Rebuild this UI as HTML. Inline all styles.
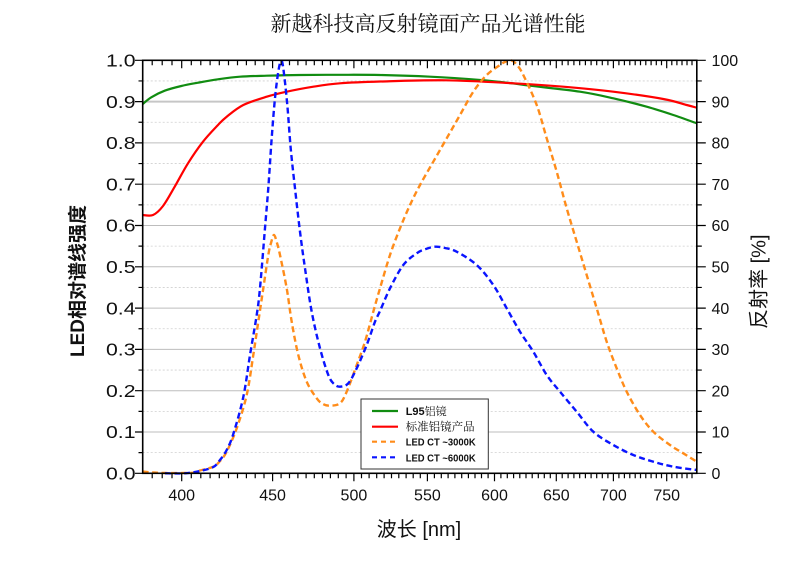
<!DOCTYPE html>
<html>
<head>
<meta charset="utf-8">
<style>
  html, body { margin:0; padding:0; background:#ffffff; }
  body { width:805px; height:565px; overflow:hidden; }
  svg { display:block; }
  .tk { font-family:"Liberation Sans", Arial, sans-serif; font-size:16px; fill:#111; }
  .tl { font-family:"Liberation Sans", Arial, sans-serif; font-size:17.5px; fill:#111; }
</style>
</head>
<body>
<svg id="chart" width="805" height="565" viewBox="0 0 805 565" xmlns="http://www.w3.org/2000/svg">
  <rect x="0" y="0" width="805" height="565" fill="#ffffff"/>

  <!-- Title -->
  <text x="428" y="31" text-anchor="middle" font-family="'Liberation Serif','Noto Serif CJK SC',serif" font-size="21" fill="#111">新越科技高反射镜面产品光谱性能</text>

  <!-- dotted minor gridlines -->
  <g stroke="#cfcfcf" stroke-width="0.8" stroke-dasharray="2 2">
    <line x1="142.7" y1="452.65" x2="696.8" y2="452.65"/>
    <line x1="142.7" y1="411.35" x2="696.8" y2="411.35"/>
    <line x1="142.7" y1="370.05" x2="696.8" y2="370.05"/>
    <line x1="142.7" y1="328.75" x2="696.8" y2="328.75"/>
    <line x1="142.7" y1="287.45" x2="696.8" y2="287.45"/>
    <line x1="142.7" y1="246.15" x2="696.8" y2="246.15"/>
    <line x1="142.7" y1="204.85" x2="696.8" y2="204.85"/>
    <line x1="142.7" y1="163.55" x2="696.8" y2="163.55"/>
    <line x1="142.7" y1="122.25" x2="696.8" y2="122.25"/>
    <line x1="142.7" y1="80.95" x2="696.8" y2="80.95"/>
  </g>
  <!-- solid major gridlines -->
  <g stroke="#bdbdbd" stroke-width="1">
    <line x1="142.7" y1="432.0" x2="696.8" y2="432.0"/>
    <line x1="142.7" y1="390.7" x2="696.8" y2="390.7"/>
    <line x1="142.7" y1="349.4" x2="696.8" y2="349.4"/>
    <line x1="142.7" y1="308.1" x2="696.8" y2="308.1"/>
    <line x1="142.7" y1="266.8" x2="696.8" y2="266.8"/>
    <line x1="142.7" y1="225.5" x2="696.8" y2="225.5"/>
    <line x1="142.7" y1="184.2" x2="696.8" y2="184.2"/>
    <line x1="142.7" y1="142.9" x2="696.8" y2="142.9"/>
  </g>
  <line x1="142.7" y1="101.6" x2="696.8" y2="101.6" stroke="#c6c6c6" stroke-width="2"/>

  <!-- Series -->
  <g fill="none" stroke-linejoin="round" stroke-linecap="butt">
    <polyline class="smooth" stroke="#118c11" stroke-width="2.2" points="142.7,104 151.3,97.3 164.7,90.7 181.3,86 198,82.7 218,79.3 240,76.7 266.7,75.7 300,75 340,74.8 380,75 430,76.7 480,80 513,83.4 530,85.7 580,91.7 613.3,98.3 646.7,106.7 673.3,115 696.7,123.3"/>
    <polyline class="smooth" stroke="#ff0000" stroke-width="2.2" points="142.7,215 153,215 163,206 174.7,186.7 188,163.3 203,141.7 218,125 226.7,116.7 243.3,105 266.7,96.7 286.7,91.7 313.3,86.7 340,83.3 380,81.5 446.7,80.3 513.3,83.3 563.3,86.7 613.3,91.7 663.3,99 686.7,105 696.7,107.7"/>
    <polyline class="smooth" stroke="#ff8c1a" stroke-width="2.4" stroke-dasharray="6 3.5" points="142.7,471.5 150,472.3 165,473 185,473 195,472.5 200,470.5 213.3,466.7 220,461 226.7,451.7 236.7,428.3 246.7,395 253.3,355 258.3,321.7 263.3,288.3 268.3,255 271,243 274,235 277,243 280,255 286.7,288.3 291.7,321.7 298.3,355 306.7,381.7 316.7,398.3 323,404 330,405.7 340,403.3 346.7,391.7 356.7,365 365,341.7 373.3,311.7 380,288.3 390,255 400,228.3 410,205 420,185 433.3,161.7 446.7,138.3 460,115 473.3,91.7 486.7,75 500,65 506,61.5 511.7,60.5 517,65 523.3,75 536.7,105 546.7,138.3 556.7,171.7 566.7,208.3 576.7,241.7 586.7,275 596.7,308.3 606.7,341.7 616.7,368.3 626.7,391.7 640,415 653.3,431.7 670,445 683.3,453.3 696.7,461.7"/>
    <polyline class="smooth" stroke="#0a14ff" stroke-width="2.4" stroke-dasharray="6 3.5" points="165,473.3 185,473.3 200,471 213.3,467 220,460 226.7,450 233.3,434 243.3,397 250,355 256.7,315 260,288 265,228 268.3,188 271.7,138 275,98 278.3,71.7 281,61 283.3,68.3 287.3,105 290.7,148.3 295,188.3 300,231.7 305,268.3 311.7,311.7 320,348.3 328.3,375 334,384 340,386.7 348.3,383.3 356.7,368.3 366.7,345 375,321.7 380,311 390,288.3 403.3,265 416.7,253.3 425,249.3 435,246.7 445,248 456.7,251.7 476.7,265 493.3,285 506.7,308.3 520,331.7 533.3,351.7 546.7,375 560,391.7 576.7,411.7 593.3,431.7 613.3,445 633.3,455 653.3,461.7 673.3,466.7 696.7,470"/>
  </g>

  <!-- Frame -->
  <rect x="142.7" y="60.3" width="554.1" height="413" fill="none" stroke="#000" stroke-width="1.6"/>

  <g stroke="#000" stroke-width="1.2">
    <path d="M181.7 473.3v8 M272.6 473.3v8 M353.9 473.3v8 M427.4 473.3v8 M494.5 473.3v8 M556.3 473.3v8 M613.4 473.3v8 M666.7 473.3v8
             M181.7 60.3v8 M272.6 60.3v8 M353.9 60.3v8 M427.4 60.3v8 M494.5 60.3v8 M556.3 60.3v8 M613.4 60.3v8 M666.7 60.3v8"/>
    <path d="M152.2 473.3v5 M162.2 473.3v5 M172.0 473.3v5 M191.3 473.3v5 M200.8 473.3v5 M210.1 473.3v5 M219.3 473.3v5 M228.5 473.3v5 M237.5 473.3v5 M246.4 473.3v5 M255.2 473.3v5 M264.0 473.3v5
             M281.1 473.3v5 M289.5 473.3v5 M297.9 473.3v5 M306.1 473.3v5 M314.3 473.3v5 M322.4 473.3v5 M330.4 473.3v5 M338.3 473.3v5 M346.1 473.3v5
             M361.5 473.3v5 M369.1 473.3v5 M376.7 473.3v5 M384.1 473.3v5 M391.5 473.3v5 M398.8 473.3v5 M406.1 473.3v5 M413.2 473.3v5 M420.3 473.3v5
             M434.4 473.3v5 M441.3 473.3v5 M448.1 473.3v5 M454.9 473.3v5 M461.7 473.3v5 M468.4 473.3v5 M475.0 473.3v5 M481.5 473.3v5 M488.1 473.3v5
             M500.9 473.3v5 M507.3 473.3v5 M513.6 473.3v5 M519.8 473.3v5 M526.0 473.3v5 M532.2 473.3v5 M538.3 473.3v5 M544.3 473.3v5 M550.3 473.3v5
             M562.2 473.3v5 M568.1 473.3v5 M573.9 473.3v5 M579.7 473.3v5 M585.4 473.3v5 M591.1 473.3v5 M596.7 473.3v5 M602.3 473.3v5 M607.9 473.3v5
             M618.9 473.3v5 M624.4 473.3v5 M629.8 473.3v5 M635.2 473.3v5 M640.5 473.3v5 M645.8 473.3v5 M651.1 473.3v5 M656.3 473.3v5 M661.5 473.3v5
             M671.8 473.3v5 M676.9 473.3v5 M682.0 473.3v5 M687.0 473.3v5 M692.0 473.3v5"/>
    <path d="M152.2 60.3v5 M162.2 60.3v5 M172.0 60.3v5 M191.3 60.3v5 M200.8 60.3v5 M210.1 60.3v5 M219.3 60.3v5 M228.5 60.3v5 M237.5 60.3v5 M246.4 60.3v5 M255.2 60.3v5 M264.0 60.3v5
             M281.1 60.3v5 M289.5 60.3v5 M297.9 60.3v5 M306.1 60.3v5 M314.3 60.3v5 M322.4 60.3v5 M330.4 60.3v5 M338.3 60.3v5 M346.1 60.3v5
             M361.5 60.3v5 M369.1 60.3v5 M376.7 60.3v5 M384.1 60.3v5 M391.5 60.3v5 M398.8 60.3v5 M406.1 60.3v5 M413.2 60.3v5 M420.3 60.3v5
             M434.4 60.3v5 M441.3 60.3v5 M448.1 60.3v5 M454.9 60.3v5 M461.7 60.3v5 M468.4 60.3v5 M475.0 60.3v5 M481.5 60.3v5 M488.1 60.3v5
             M500.9 60.3v5 M507.3 60.3v5 M513.6 60.3v5 M519.8 60.3v5 M526.0 60.3v5 M532.2 60.3v5 M538.3 60.3v5 M544.3 60.3v5 M550.3 60.3v5
             M562.2 60.3v5 M568.1 60.3v5 M573.9 60.3v5 M579.7 60.3v5 M585.4 60.3v5 M591.1 60.3v5 M596.7 60.3v5 M602.3 60.3v5 M607.9 60.3v5
             M618.9 60.3v5 M624.4 60.3v5 M629.8 60.3v5 M635.2 60.3v5 M640.5 60.3v5 M645.8 60.3v5 M651.1 60.3v5 M656.3 60.3v5 M661.5 60.3v5
             M671.8 60.3v5 M676.9 60.3v5 M682.0 60.3v5 M687.0 60.3v5 M692.0 60.3v5"/>
    <path d="M135 473.3h7.7 M135 432h7.7 M135 390.7h7.7 M135 349.4h7.7 M135 308.1h7.7 M135 266.8h7.7 M135 225.5h7.7 M135 184.2h7.7 M135 142.9h7.7 M135 101.6h7.7 M135 60.3h7.7
             M138.5 452.65h4.2 M138.5 411.35h4.2 M138.5 370.05h4.2 M138.5 328.75h4.2 M138.5 287.45h4.2 M138.5 246.15h4.2 M138.5 204.85h4.2 M138.5 163.55h4.2 M138.5 122.25h4.2 M138.5 80.95h4.2"/>
    <path d="M696.8 473.3h9 M696.8 432h9 M696.8 390.7h9 M696.8 349.4h9 M696.8 308.1h9 M696.8 266.8h9 M696.8 225.5h9 M696.8 184.2h9 M696.8 142.9h9 M696.8 101.6h9 M696.8 60.3h9
             M696.8 452.65h5 M696.8 411.35h5 M696.8 370.05h5 M696.8 328.75h5 M696.8 287.45h5 M696.8 246.15h5 M696.8 204.85h5 M696.8 163.55h5 M696.8 122.25h5 M696.8 80.95h5"/>
  </g>

  <g class="tk" text-anchor="middle">
    <text x="181.7" y="500.5">400</text>
    <text x="272.6" y="500.5">450</text>
    <text x="353.9" y="500.5">500</text>
    <text x="427.4" y="500.5">550</text>
    <text x="494.5" y="500.5">600</text>
    <text x="556.3" y="500.5">650</text>
    <text x="613.4" y="500.5">700</text>
    <text x="666.7" y="500.5">750</text>
  </g>

  <g class="tl">
    <text x="106" y="479.5" textLength="29.5" lengthAdjust="spacingAndGlyphs">0.0</text>
    <text x="106" y="438.2" textLength="29.5" lengthAdjust="spacingAndGlyphs">0.1</text>
    <text x="106" y="396.9" textLength="29.5" lengthAdjust="spacingAndGlyphs">0.2</text>
    <text x="106" y="355.6" textLength="29.5" lengthAdjust="spacingAndGlyphs">0.3</text>
    <text x="106" y="314.3" textLength="29.5" lengthAdjust="spacingAndGlyphs">0.4</text>
    <text x="106" y="273" textLength="29.5" lengthAdjust="spacingAndGlyphs">0.5</text>
    <text x="106" y="231.7" textLength="29.5" lengthAdjust="spacingAndGlyphs">0.6</text>
    <text x="106" y="190.4" textLength="29.5" lengthAdjust="spacingAndGlyphs">0.7</text>
    <text x="106" y="149.1" textLength="29.5" lengthAdjust="spacingAndGlyphs">0.8</text>
    <text x="106" y="107.8" textLength="29.5" lengthAdjust="spacingAndGlyphs">0.9</text>
    <text x="106" y="66.5" textLength="29.5" lengthAdjust="spacingAndGlyphs">1.0</text>
  </g>

  <g class="tk">
    <text x="711.5" y="479">0</text>
    <text x="711.5" y="437.7">10</text>
    <text x="711.5" y="396.4">20</text>
    <text x="711.5" y="355.1">30</text>
    <text x="711.5" y="313.8">40</text>
    <text x="711.5" y="272.5">50</text>
    <text x="711.5" y="231.2">60</text>
    <text x="711.5" y="189.9">70</text>
    <text x="711.5" y="148.6">80</text>
    <text x="711.5" y="107.3">90</text>
    <text x="711.5" y="66">100</text>
  </g>

  <text x="419" y="536" text-anchor="middle" font-family="'Liberation Sans','Noto Sans CJK SC',sans-serif" font-size="20" fill="#111">波长 [nm]</text>
  <text x="84" y="281" text-anchor="middle" transform="rotate(-90 84 281)" font-family="'Liberation Sans','Noto Sans CJK SC',sans-serif" font-size="19" font-weight="bold" fill="#111">LED相对谱线强度</text>
  <text x="765.5" y="281.7" text-anchor="middle" transform="rotate(-90 765.5 281.7)" font-family="'Liberation Sans','Noto Sans CJK SC',sans-serif" font-size="20" fill="#111">反射率 [%]</text>

  <rect x="361" y="399" width="127.3" height="70" fill="#ffffff" stroke="#333" stroke-width="1"/>
  <line x1="372" y1="411" x2="398" y2="411" stroke="#118c11" stroke-width="2.2"/>
  <line x1="372" y1="426.7" x2="398" y2="426.7" stroke="#ff0000" stroke-width="2.2"/>
  <line x1="372" y1="441.7" x2="398" y2="441.7" stroke="#ff8c1a" stroke-width="2.2" stroke-dasharray="5 4"/>
  <line x1="372" y1="457.3" x2="398" y2="457.3" stroke="#0a14ff" stroke-width="2.2" stroke-dasharray="5 4"/>
  <text x="405.7" y="415" font-size="11" fill="#111"><tspan font-family="'Liberation Sans',sans-serif" font-weight="bold">L95</tspan><tspan font-family="'Liberation Serif','Noto Serif CJK SC',serif">铝镜</tspan></text>
  <text x="405.7" y="430.7" font-size="11.5" font-family="'Liberation Serif','Noto Serif CJK SC',serif" fill="#111">标准铝镜产品</text>
  <text x="405.7" y="445.7" font-size="10.5" font-weight="bold" font-family="'Liberation Sans',sans-serif" fill="#111" textLength="70" lengthAdjust="spacingAndGlyphs">LED CT ~3000K</text>
  <text x="405.7" y="461.3" font-size="10.5" font-weight="bold" font-family="'Liberation Sans',sans-serif" fill="#111" textLength="70" lengthAdjust="spacingAndGlyphs">LED CT ~6000K</text>
</svg>
<script>
(function(){
  var ns = "http://www.w3.org/2000/svg";
  var pls = document.querySelectorAll("polyline.smooth");
  for (var k = 0; k < pls.length; k++) {
    var pl = pls[k];
    var raw = pl.getAttribute("points").trim().split(/\s+/);
    var p = raw.map(function(s){ var a = s.split(","); return [parseFloat(a[0]), parseFloat(a[1])]; });
    var d = "M" + p[0][0] + " " + p[0][1];
    for (var i = 0; i < p.length - 1; i++) {
      var p0 = p[i > 0 ? i - 1 : i], p1 = p[i], p2 = p[i + 1], p3 = p[i + 2 < p.length ? i + 2 : i + 1];
      var c1x = p1[0] + (p2[0] - p0[0]) / 6, c1y = p1[1] + (p2[1] - p0[1]) / 6;
      var c2x = p2[0] - (p3[0] - p1[0]) / 6, c2y = p2[1] - (p3[1] - p1[1]) / 6;
      d += " C" + c1x.toFixed(2) + " " + c1y.toFixed(2) + " " + c2x.toFixed(2) + " " + c2y.toFixed(2) + " " + p2[0] + " " + p2[1];
    }
    var path = document.createElementNS(ns, "path");
    var attrs = pl.attributes;
    for (var j = 0; j < attrs.length; j++) {
      if (attrs[j].name !== "points" && attrs[j].name !== "class") path.setAttribute(attrs[j].name, attrs[j].value);
    }
    path.setAttribute("d", d);
    pl.parentNode.replaceChild(path, pl);
  }
})();
</script>
</body>
</html>
